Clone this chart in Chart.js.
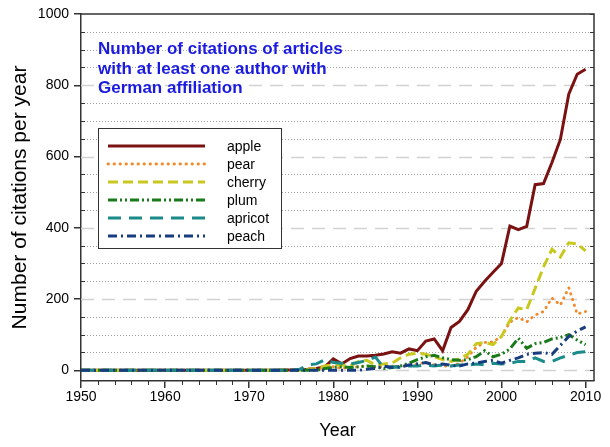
<!DOCTYPE html>
<html><head><meta charset="utf-8">
<script src="https://cdn.jsdelivr.net/npm/chart.js@4/dist/chart.umd.min.js"></script>
<style>html,body{margin:0;padding:0;background:#fff;}#wrap{width:610px;height:447px;}</style>
</head><body><div id="wrap"><canvas id="c" width="610" height="447"></canvas></div>
<script>
const years = [1950,1951,1952,1953,1954,1955,1956,1957,1958,1959,1960,1961,1962,1963,1964,1965,1966,1967,1968,1969,1970,1971,1972,
  1973,1974,1975,1976,1977,1978,1979,1980,1981,1982,1983,1984,1985,1986,1987,1988,1989,1990,1991,1992,1993,1994,1995,1996,1997,1998,1999,2000,2001,2002,2003,2004,2005,2006,2007,2008,2009,2010];
const seriesNames = ['apple','pear','cherry','plum','apricot','peach'];
const apple = [0,0,0,0,0,0,0,0,0,0,0,0,0,0,0,0,0,0,0,0,0,0,0,
  0,1,1,2,3,5,10,32,18,33,40,40,42,46,52,48,60,55,82,88,55,120,137,170,222,250,275,300,405,395,404,521,524,583,648,775,831,845];
const pear = [0,0,0,0,0,0,0,0,0,0,0,0,0,0,0,0,0,0,0,0,0,0,0,
  0,0,1,3,5,3,8,10,5,8,10,12,8,10,12,10,15,18,22,15,12,12,20,38,65,78,80,95,135,148,136,155,165,203,183,232,158,165];
const cherry = [0,0,0,0,0,0,0,0,0,0,0,0,0,0,0,0,0,0,0,0,0,0,0,
  0,0,0,0,2,5,12,15,15,12,25,28,15,18,20,35,45,48,45,38,30,25,32,45,75,78,72,95,140,175,170,230,290,340,318,358,355,335];
const plum = [0,0,0,0,0,0,0,0,0,0,0,0,0,0,0,0,0,0,0,0,0,0,0,
  0,0,0,0,0,0,5,8,10,8,10,12,10,5,8,12,20,30,38,42,35,30,28,30,38,55,38,45,60,90,62,75,78,88,92,100,85,72];
const apricot = [0,0,0,0,0,0,0,0,0,0,0,0,0,0,0,0,0,0,0,0,0,0,0,
  0,0,0,3,15,18,30,22,20,18,22,28,37,8,10,8,12,12,15,12,15,12,15,14,18,15,20,18,20,25,25,35,25,25,35,42,50,52];
const peach = [0,0,0,0,0,0,0,0,0,0,0,0,0,0,0,0,0,0,0,0,0,0,0,
  0,0,0,0,0,0,0,0,0,0,0,3,5,12,8,10,15,18,22,15,18,14,12,18,20,25,28,20,28,35,45,48,50,45,70,95,110,122];
const xTicks = [1950,1960,1970,1980,1990,2000,2010];
const yTicks = [0,200,400,600,800,1000];
const titleLines = ['Number of citations of articles','with at least one author with','German affiliation'];
const xTitle = 'Year';
const yTitle = 'Number of citations per year';

const FONT = '"Liberation Sans", Arial, sans-serif';
const values = [apple, pear, cherry, plum, apricot, peach];
const styles = [
  {c:'#7a1212', w:3,   dash:[],              cap:'butt'},
  {c:'#f08a2a', w:2.8, dash:[0.5,5.5],       cap:'round'},
  {c:'#c8c81e', w:3,   dash:[10,5],          cap:'butt'},
  {c:'#197a19', w:3,   dash:[9,3,2,3,2,3],   cap:'butt'},
  {c:'#1b8a8a', w:3,   dash:[13,8],          cap:'butt'},
  {c:'#173d80', w:3,   dash:[9,4,2,4],       cap:'butt'}
];
const datasets = seriesNames.map((n,i)=>({
  label:n,
  data: years.map((yr,j)=>({x:yr, y:values[i][j]})),
  borderColor: styles[i].c, backgroundColor: styles[i].c,
  borderWidth: styles[i].w, borderDash: styles[i].dash, borderCapStyle: styles[i].cap,
  pointRadius:0, tension:0, fill:false, order: seriesNames.length - i
}));

const decor = {
  id:'decor',
  beforeDatasetsDraw(chart){
    const {ctx, chartArea:a, scales:{y}} = chart;
    ctx.save();
    ctx.beginPath(); ctx.rect(a.left, a.top, a.right-a.left, a.bottom-a.top); ctx.clip();
    for (let v=0; v<1000; v+=50){
      const py = Math.round(y.getPixelForValue(v)) + 0.5;
      ctx.beginPath();
      if (v % 200 === 0){ ctx.strokeStyle='#d2d2d2'; ctx.lineWidth=1.5; ctx.setLineDash([13,8]); }
      else { ctx.strokeStyle='#a0a0a0'; ctx.lineWidth=1; ctx.setLineDash([1,2]); }
      ctx.moveTo(a.left, py); ctx.lineTo(a.right, py); ctx.stroke();
    }
    ctx.restore();
  },
  afterDraw(chart){
    const {ctx, chartArea:a, scales:{x,y}} = chart;
    ctx.save();
    ctx.strokeStyle='#333'; ctx.lineWidth=1.5; ctx.setLineDash([]);
    ctx.beginPath();
    ctx.moveTo(a.left, a.top); ctx.lineTo(a.right, a.top); ctx.lineTo(a.right, a.bottom);
    ctx.stroke();
    ctx.lineWidth=1;
    for (let v=0; v<=1000; v+=50){
      const py = Math.round(y.getPixelForValue(v)) + 0.5;
      ctx.beginPath();
      if (v % 200 !== 0){ ctx.moveTo(a.left, py); ctx.lineTo(a.left+4, py); }
      ctx.moveTo(a.right, py); ctx.lineTo(a.right-4, py);
      ctx.stroke();
    }
    for (let v=1952; v<=2010; v+=2){
      if (v % 10 === 0) continue;
      const px = Math.round(x.getPixelForValue(v)) + 0.5;
      ctx.beginPath(); ctx.moveTo(px, a.bottom); ctx.lineTo(px, a.bottom+4); ctx.stroke();
    }
    ctx.fillStyle='#1a1ae0'; ctx.font='bold 17px '+FONT; ctx.textBaseline='alphabetic'; ctx.textAlign='left';
    const base=[54,74,93];
    titleLines.forEach((t,i)=>ctx.fillText(t, 98, base[i]));
    ctx.fillStyle='#fff'; ctx.fillRect(98.5,128.5,183,120);
    ctx.strokeStyle='#333'; ctx.lineWidth=1; ctx.strokeRect(98.5,128.5,183,120);
    chart.data.datasets.forEach((ds,i)=>{
      const ly = 146 + i*18;
      ctx.beginPath();
      ctx.strokeStyle=ds.borderColor; ctx.lineWidth=ds.borderWidth;
      ctx.setLineDash(ds.borderDash); ctx.lineCap=ds.borderCapStyle;
      ctx.moveTo(108, ly); ctx.lineTo(205, ly); ctx.stroke();
      ctx.setLineDash([]); ctx.lineCap='butt';
      ctx.fillStyle='#000'; ctx.font='14px '+FONT; ctx.textBaseline='middle';
      ctx.fillText(ds.label, 227, ly+1);
    });
    ctx.restore();
  }
};

new Chart(document.getElementById('c'), {
  type:'line',
  data:{datasets},
  options:{
    responsive:false, animation:false, devicePixelRatio:1,
    layout:{padding:{left:0,right:16,top:14,bottom:0}},
    plugins:{legend:{display:false}, tooltip:{enabled:false}, title:{display:false}},
    scales:{
      x:{type:'linear', min:1950, max:2011,
        afterBuildTicks:s=>{s.ticks = xTicks.map(v=>({value:v}));},
        afterFit:s=>{s.height=66;},
        grid:{display:true, drawOnChartArea:false, drawTicks:true, tickLength:7, color:'#333', lineWidth:1.5},
        border:{display:true, color:'#333', width:1.5},
        ticks:{padding:1, color:'#000', font:{family:FONT, size:14}, maxRotation:0, autoSkip:false, callback:v=>String(v)},
        title:{display:true, text:xTitle, color:'#000', font:{family:FONT, size:18}, padding:{top:0,bottom:5}}
      },
      y:{type:'linear', min:-30, max:1000,
        afterBuildTicks:s=>{s.ticks = yTicks.map(v=>({value:v}));},
        afterFit:s=>{s.width=81;},
        grid:{display:true, drawOnChartArea:false, drawTicks:true, tickLength:7, color:'#333', lineWidth:1.5},
        border:{display:true, color:'#333', width:1.5},
        ticks:{padding:5, color:'#000', font:{family:FONT, size:14}, callback:v=>String(v)},
        title:{display:true, text:yTitle, color:'#000', font:{family:FONT, size:21}, padding:{top:8,bottom:0}}
      }
    }
  },
  plugins:[decor]
});
</script></body></html>
